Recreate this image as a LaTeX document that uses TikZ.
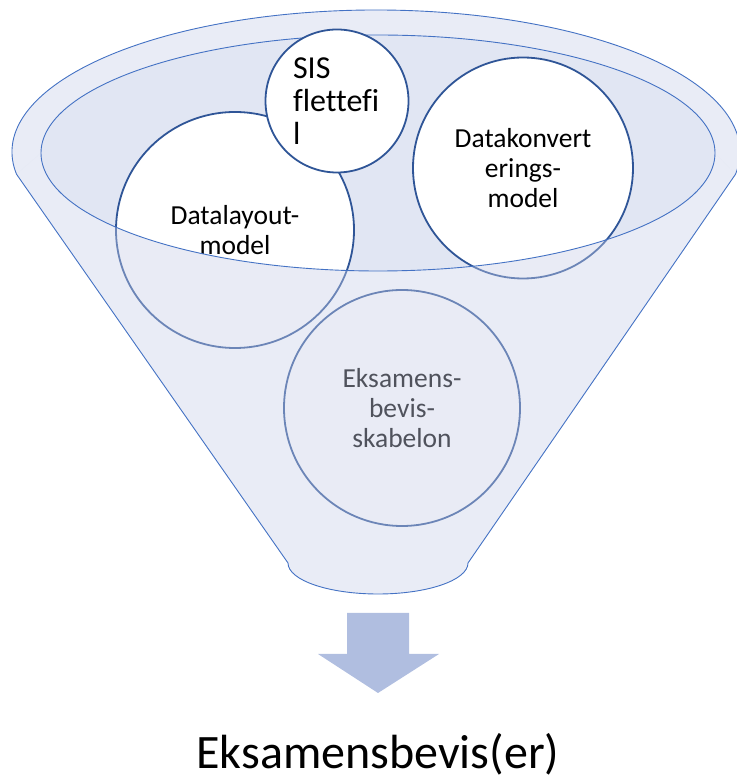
\documentclass[tikz,border=0pt]{standalone}
\usepackage{fontspec}
\setmainfont{Carlito}[Ligatures=NoCommon]
\usetikzlibrary{shapes.geometric}
\definecolor{rimfill}{RGB}{233,236,246}
\definecolor{innerfill}{RGB}{225,230,243}
\definecolor{veil}{RGB}{200,207,232}
\definecolor{funline}{RGB}{68,114,196}
\definecolor{circline}{RGB}{47,85,151}
\definecolor{arrowfill}{RGB}{176,190,224}
\begin{document}
\begin{tikzpicture}[x=1pt,y=1pt,
  bubble/.style={ellipse, draw=circline, line width=1.8pt, fill=white, inner sep=0pt, align=center, font=\fontsize{27.5}{30}\selectfont},
  rimline/.style={draw=funline, line width=0.9pt}]
\useasboundingbox (0,0) rectangle (737,780);
% back rim
\fill[rimfill] (16.5,605.8) arc[start angle=189,end angle=-9,x radius=364,y radius=142] -- (715,627) arc[start angle=0,end angle=-180,x radius=337,y radius=118] -- cycle;
\fill[innerfill] (378,627) ellipse[x radius=337,y radius=118];
\draw[rimline] (715,627) arc[start angle=0,end angle=180,x radius=337,y radius=118];
% circles
\node[bubble, minimum width=238pt, minimum height=236pt] (layout) at (235,550) {Datalayout-\\model};
\node[bubble, minimum width=143pt, minimum height=143pt, align=left, text width=88pt, font=\fontsize{32}{33}\selectfont] (sis) at (337,679) {SIS\\flettefi\\l};
\node[bubble, minimum width=220pt, minimum height=221pt] (konv) at (523,612) {Datakonvert\\erings-\\model};
\node[bubble, minimum width=236pt, minimum height=236pt] (skab) at (402,372) {Eksamens-\\bevis-\\skabelon};
% front veil
\fill[veil, fill opacity=0.4] (16.5,605.8) -- (288,217) arc[start angle=180,end angle=360,x radius=90,y radius=31] -- (735.5,605.8) -- (715,627) arc[start angle=0,end angle=-180,x radius=337,y radius=118] -- cycle;
\draw[rimline] (715,627) arc[start angle=0,end angle=-180,x radius=337,y radius=118];
\draw[rimline] (16.5,605.8) arc[start angle=189,end angle=-9,x radius=364,y radius=142] -- (468,217) arc[start angle=0,end angle=-180,x radius=90,y radius=31] -- cycle;
% arrow
\fill[arrowfill] (347,167) -- (409,167) -- (409,126) -- (439,126) -- (378,87) -- (318,126) -- (347,126) -- cycle;
\node[font=\fontsize{48}{56}\selectfont, anchor=base, inner sep=0pt] (result) at (378,12) {Eksamensbevis(er)};
\end{tikzpicture}
\end{document}
